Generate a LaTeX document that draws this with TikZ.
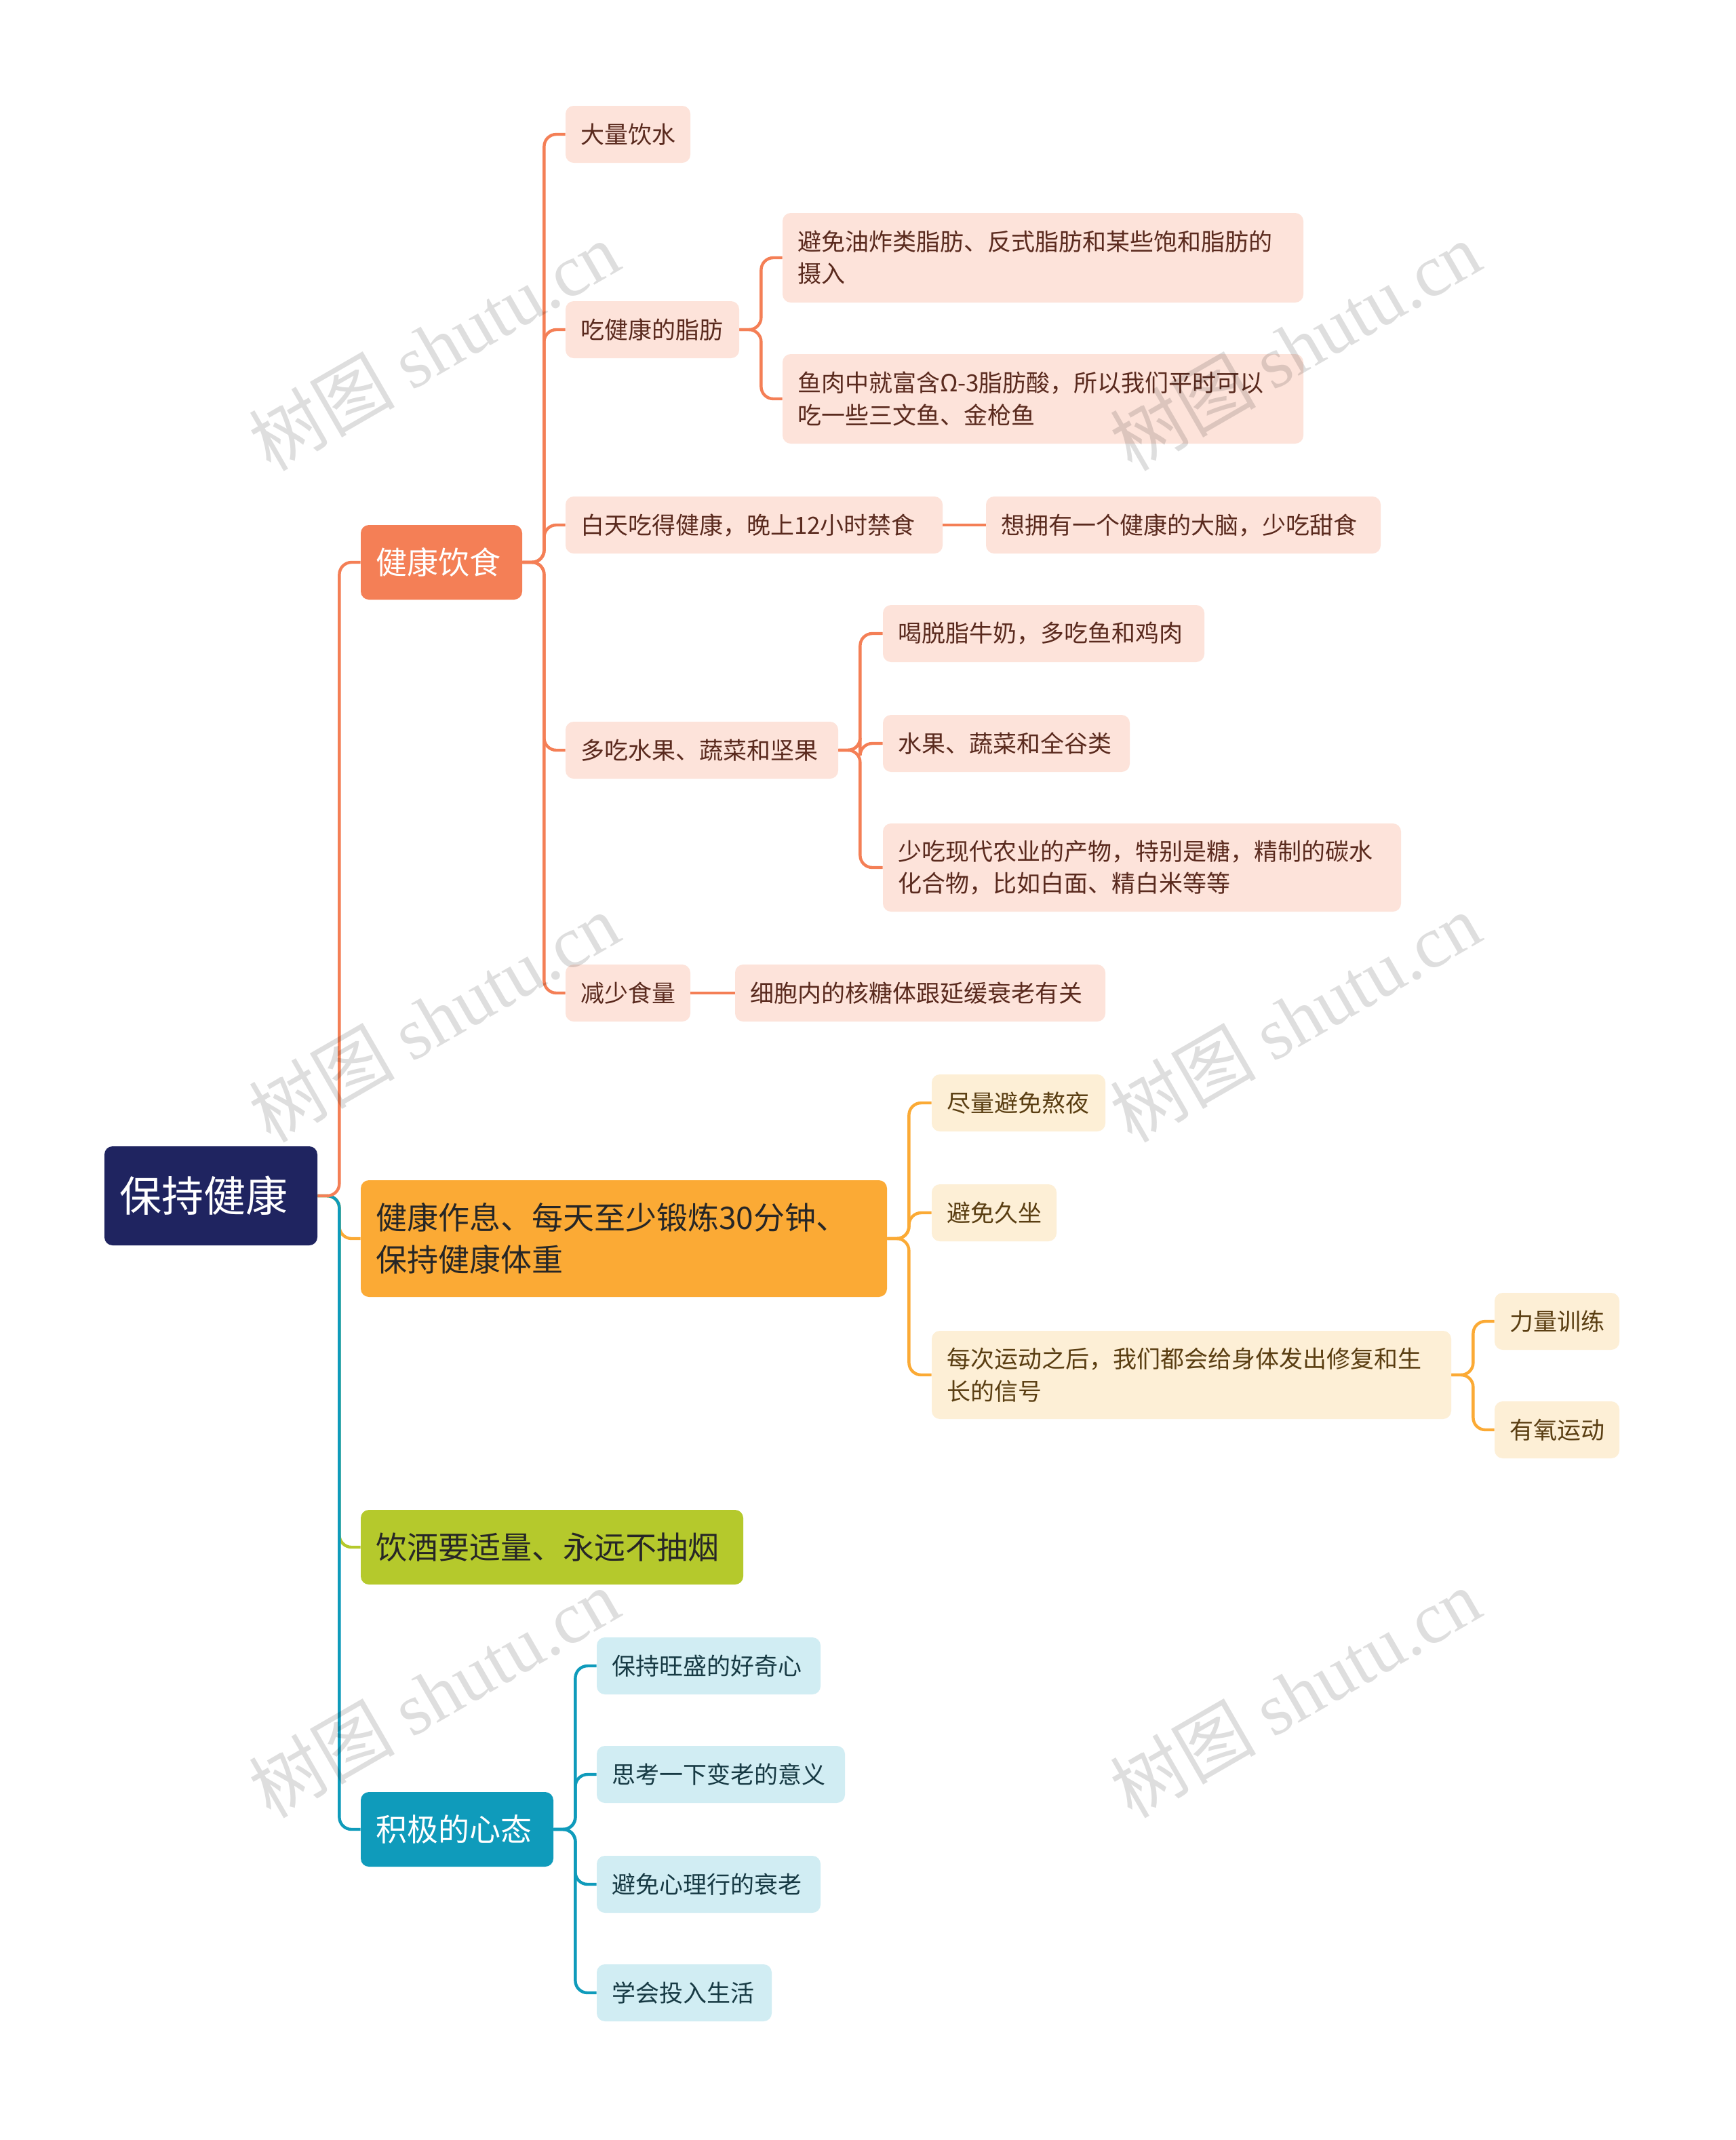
\documentclass[tikz,border=0pt]{standalone}
\usepackage{fontspec}
\setmainfont{Noto Sans CJK SC}
\newfontfamily\wmlat{Liberation Serif}
\usetikzlibrary{fit}
\definecolor{cRoot}{HTML}{1F2460}
\definecolor{cA}{HTML}{F47F56}
\definecolor{cAl}{HTML}{FDE3DA}
\definecolor{cB}{HTML}{FBAA35}
\definecolor{cBl}{HTML}{FDEFD6}
\definecolor{cC}{HTML}{B5C92C}
\definecolor{cD}{HTML}{0F9BBB}
\definecolor{cDl}{HTML}{D1EDF3}
\definecolor{tA}{HTML}{5A2A1E}
\definecolor{tB}{HTML}{5A3E12}
\definecolor{tD}{HTML}{173A44}
\tikzset{
 boxsh/.style={inner sep=0pt, rounded corners=6pt},
 lbl/.style={anchor=west, align=left, inner sep=0pt},
 conn/.style={line width=2.2pt, rounded corners=9pt},
}
% name, x1, y1, x2, y2, fill, textcolor, fontsize, text
\newcommand\mybox[9]{%
 \path (#2,#3) coordinate (#1-nw) (#4,#5) coordinate (#1-se);
 \node[boxsh, fill=#6, fit=(#1-nw)(#1-se)] (#1) {};
 \node[lbl, text=#7, font=\fontsize{#8pt}{\dimexpr #8pt*135/100\relax}\selectfont] at ([xshift=11pt]#1.west) {#9};
}
\begin{document}
\begin{tikzpicture}[x=1pt,y=-1pt]
\useasboundingbox (0,0) rectangle (1280,1577.5);
\fill[white] (0,0) rectangle (1280,1577.5);
% boxes
\mybox{root}{77}{845}{234}{918}{cRoot}{white}{31}{保持健康}
\mybox{A}{266}{387}{385}{442}{cA}{white}{23}{健康饮食}
\mybox{B}{266}{870}{654}{956}{cB}{black!85}{23}{健康作息、每天至少锻炼30分钟、\\保持健康体重}
\mybox{C}{266}{1113}{548}{1168}{cC}{black!85}{23}{饮酒要适量、永远不抽烟}
\mybox{D}{266}{1321}{408}{1376}{cD}{white}{23}{积极的心态}

\mybox{A1}{417}{78}{509}{120}{cAl}{tA}{17.5}{大量饮水}
\mybox{A2}{417}{222}{545}{264}{cAl}{tA}{17.5}{吃健康的脂肪}
\mybox{A21}{577}{157}{961}{223}{cAl}{tA}{17.5}{避免油炸类脂肪、反式脂肪和某些饱和脂肪的\\摄入}
\mybox{A22}{577}{261}{961}{327}{cAl}{tA}{17.5}{鱼肉中就富含Ω-3脂肪酸，所以我们平时可以\\吃一些三文鱼、金枪鱼}
\mybox{A3}{417}{366}{695}{408}{cAl}{tA}{17.5}{白天吃得健康，晚上12小时禁食}
\mybox{A31}{727}{366}{1018}{408}{cAl}{tA}{17.5}{想拥有一个健康的大脑，少吃甜食}
\mybox{A4}{417}{532}{618}{574}{cAl}{tA}{17.5}{多吃水果、蔬菜和坚果}
\mybox{A41}{651}{446}{888}{488}{cAl}{tA}{17.5}{喝脱脂牛奶，多吃鱼和鸡肉}
\mybox{A42}{651}{527}{833}{569}{cAl}{tA}{17.5}{水果、蔬菜和全谷类}
\mybox{A43}{651}{607}{1033}{672}{cAl}{tA}{17.5}{少吃现代农业的产物，特别是糖，精制的碳水\\化合物，比如白面、精白米等等}
\mybox{A5}{417}{711}{509}{753}{cAl}{tA}{17.5}{减少食量}
\mybox{A51}{542}{711}{815}{753}{cAl}{tA}{17.5}{细胞内的核糖体跟延缓衰老有关}

\mybox{B1}{687}{792}{815}{834}{cBl}{tB}{17.5}{尽量避免熬夜}
\mybox{B2}{687}{873}{779}{915}{cBl}{tB}{17.5}{避免久坐}
\mybox{B3}{687}{981}{1070}{1046}{cBl}{tB}{17.5}{每次运动之后，我们都会给身体发出修复和生\\长的信号}
\mybox{B31}{1102}{953}{1194}{995}{cBl}{tB}{17.5}{力量训练}
\mybox{B32}{1102}{1033}{1194}{1075}{cBl}{tB}{17.5}{有氧运动}

\mybox{D1}{440}{1207}{605}{1249}{cDl}{tD}{17.5}{保持旺盛的好奇心}
\mybox{D2}{440}{1287}{623}{1329}{cDl}{tD}{17.5}{思考一下变老的意义}
\mybox{D3}{440}{1368}{605}{1410}{cDl}{tD}{17.5}{避免心理行的衰老}
\mybox{D4}{440}{1448}{569}{1490}{cDl}{tD}{17.5}{学会投入生活}

% main connectors
\draw[conn, cB] (root.east) -- ++(16,0) |- (B.west);
\draw[conn, cC] (root.east) -- ++(16,0) |- (C.west);
\draw[conn, cD] (root.east) -- ++(16,0) |- (D.west);
\draw[conn, cA] (root.east) -- ++(16,0) |- (A.west);
% A
\foreach \c in {A1,A2,A3,A4,A5}{\draw[conn, cA] (A.east) -- ++(16,0) |- (\c.west);}
\foreach \c in {A21,A22}{\draw[conn, cA] (A2.east) -- ++(16,0) |- (\c.west);}
\draw[conn, cA] (A3.east) -- (A31.west);
\foreach \c in {A41,A42,A43}{\draw[conn, cA] (A4.east) -- ++(16,0) |- (\c.west);}
\draw[conn, cA] (A5.east) -- (A51.west);
% B
\foreach \c in {B1,B2,B3}{\draw[conn, cB] (B.east) -- ++(16,0) |- (\c.west);}
\foreach \c in {B31,B32}{\draw[conn, cB] (B3.east) -- ++(16,0) |- (\c.west);}
% D
\foreach \c in {D1,D2,D3,D4}{\draw[conn, cD] (D.east) -- ++(16,0) |- (\c.west);}
% watermarks
\foreach \wx/\wy in {320/255,955/255,320/750,955/750,320/1248,955/1248}{
 \node[rotate=30, text=black, opacity=0.13, font=\fontsize{54pt}{58pt}\selectfont] at (\wx,\wy) {树图 {\wmlat shutu.cn}};
}
\end{tikzpicture}
\end{document}
